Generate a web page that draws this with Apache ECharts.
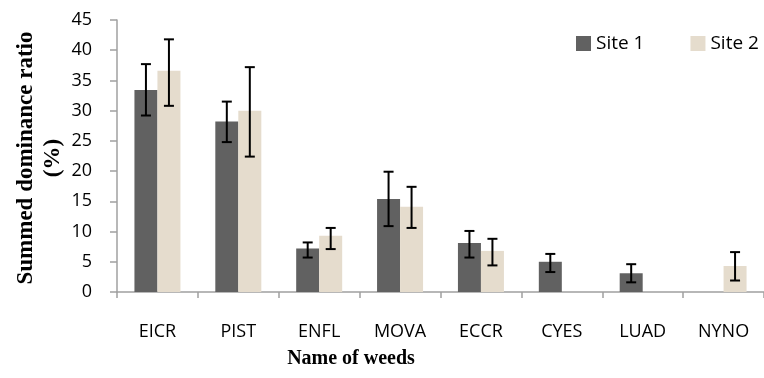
<!DOCTYPE html>
<html>
<head>
<meta charset="utf-8">
<script src="https://cdn.jsdelivr.net/npm/echarts@6/dist/echarts.min.js"></script>
<style>html,body{margin:0;padding:0;background:#fff}#c{width:764px;height:378px}</style>
</head>
<body>
<div id="c"></div>
<script>
var categories = ['EICR','PIST','ENFL','MOVA','ECCR','CYES','LUAD','NYNO'];
var site1 = [33.4, 28.2, 7.2, 15.4, 8.1, 5.0, 3.1, 0];
var site1Low = [29.2, 24.8, 5.7, 10.9, 5.7, 3.3, 1.6, null];
var site1High = [37.7, 31.5, 8.2, 19.9, 10.1, 6.3, 4.6, null];
var site2 = [36.6, 30.0, 9.3, 14.1, 6.8, 0, 0, 4.3];
var site2Low = [30.8, 22.4, 7.1, 10.6, 4.4, null, null, 1.9];
var site2High = [41.8, 37.2, 10.6, 17.4, 8.8, null, null, 6.6];
var yTicks = [0, 45, 5];

var BAR_W = 23;
function errData(low, high) {
  var out = [];
  for (var i = 0; i < categories.length; i++) {
    if (low[i] != null) out.push([i, low[i], high[i]]);
  }
  return out;
}
function errRender(offset) {
  return function (params, api) {
    var x = api.value(0);
    var lo = api.coord([x, api.value(1)]);
    var hi = api.coord([x, api.value(2)]);
    var cx = lo[0] + offset;
    var cap = 5;
    var st = {stroke: '#000', lineWidth: 2};
    return {type: 'group', children: [
      {type: 'line', shape: {x1: cx, y1: lo[1], x2: cx, y2: hi[1]}, style: st},
      {type: 'line', shape: {x1: cx - cap, y1: lo[1], x2: cx + cap, y2: lo[1]}, style: st},
      {type: 'line', shape: {x1: cx - cap, y1: hi[1], x2: cx + cap, y2: hi[1]}, style: st}
    ]};
  };
}
var chart = echarts.init(document.getElementById('c'), null, {renderer: 'canvas'});
var labelFont = "'Open Sans', 'Liberation Sans', sans-serif";
chart.setOption({
  animation: false,
  backgroundColor: '#fff',
  grid: {left: 117, width: 656, top: 20, bottom: 86},
  legend: {
    left: 576, top: 34, padding: 0, itemWidth: 15, itemHeight: 15, itemGap: 46,
    icon: 'rect',
    textStyle: {fontSize: 19, color: '#000', fontFamily: labelFont},
    data: ['Site 1', 'Site 2']
  },
  xAxis: {
    type: 'category', data: categories,
    axisLine: {lineStyle: {color: '#a0a0a0', width: 1.5}},
    axisTick: {show: true, length: 6, interval: 0, lineStyle: {color: '#a0a0a0', width: 1.5}},
    axisLabel: {fontSize: 18, color: '#000', margin: 31, fontFamily: labelFont, interval: 0},
    splitLine: {show: false}
  },
  yAxis: {
    type: 'value', min: yTicks[0], max: yTicks[1], interval: yTicks[2],
    axisLine: {show: true, lineStyle: {color: '#a0a0a0', width: 1.5}},
    axisTick: {show: true, length: 7, lineStyle: {color: '#a0a0a0', width: 1.5}},
    axisLabel: {fontSize: 18, color: '#000', margin: 25, fontFamily: labelFont},
    splitLine: {show: false}
  },
  graphic: [
    {type: 'text', x: 40, y: 158, rotation: Math.PI / 2,
     style: {text: 'Summed dominance ratio\n(%)', fill: '#000', align: 'center', verticalAlign: 'middle',
             font: "bold 23px 'Liberation Serif', 'Times New Roman', serif", lineHeight: 27}},
    {type: 'text', x: 351, y: 359,
     style: {text: 'Name of weeds', fill: '#000', align: 'center', verticalAlign: 'middle',
             font: "bold 20px 'Liberation Serif', 'Times New Roman', serif"}}
  ],
  series: [
    {name: 'Site 1', type: 'bar', data: site1, barWidth: BAR_W, barGap: '0%',
     itemStyle: {color: '#616161'}},
    {name: 'Site 2', type: 'bar', data: site2, barWidth: BAR_W, barGap: '0%',
     itemStyle: {color: '#e5dccd'}},
    {name: 'err1', type: 'custom', data: errData(site1Low, site1High), renderItem: errRender(-BAR_W / 2), z: 10},
    {name: 'err2', type: 'custom', data: errData(site2Low, site2High), renderItem: errRender(BAR_W / 2), z: 10}
  ]
});
</script>
</body>
</html>
